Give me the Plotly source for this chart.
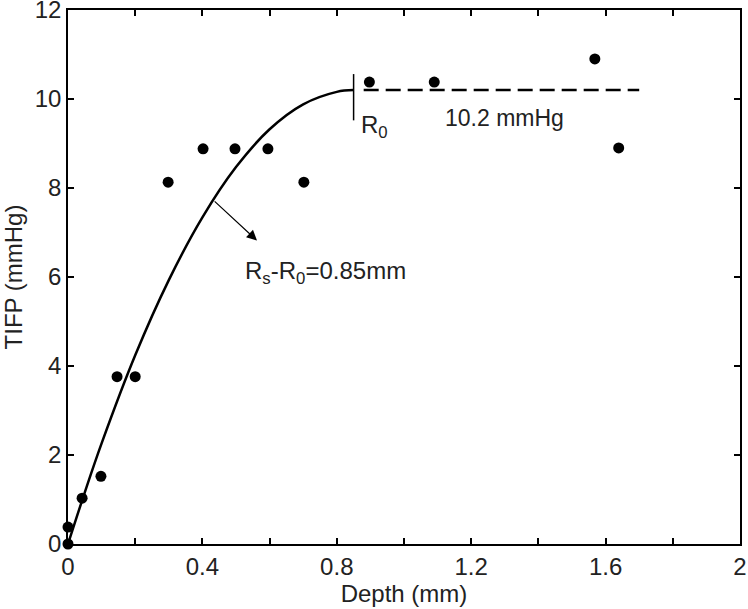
import plotly.graph_objects as go

# measured points (depth in mm, TIFP in mmHg)
depth = [0, 0, 0.042, 0.098, 0.146, 0.2, 0.298, 0.402, 0.497, 0.595, 0.702,
         0.897, 1.09, 1.568, 1.639]
tifp = [0, 0.38, 1.03, 1.52, 3.76, 3.76, 8.13, 8.88, 8.88, 8.88, 8.13,
        10.38, 10.38, 10.9, 8.9]

# fitted curve
fit_depth = [0, 0.05, 0.1, 0.2, 0.3, 0.4, 0.5, 0.6, 0.7, 0.8, 0.85]
fit_tifp = [0, 1.16, 2.26, 4.24, 5.93, 7.34, 8.47, 9.32, 9.88, 10.16, 10.2]

# plateau line
plateau_depth = [0.88, 1.7]
plateau_tifp = [10.2, 10.2]

r0 = 0.85
x_ticks = [0, 0.4, 0.8, 1.2, 1.6, 2.0]
x_labels = ["0", "0.4", "0.8", "1.2", "1.6", "2"]
y_ticks = [0, 2, 4, 6, 8, 10, 12]

FONT = "Liberation Sans, Arial, sans-serif"
TXT = "#222"

fig = go.Figure()
fig.add_trace(go.Scatter(x=fit_depth, y=fit_tifp, mode="lines",
                         line=dict(color="black", width=2.5, shape="spline"),
                         hoverinfo="skip"))
fig.add_trace(go.Scatter(x=plateau_depth, y=plateau_tifp, mode="lines",
                         line=dict(color="black", width=2.5, dash="15px,7px"),
                         hoverinfo="skip"))
fig.add_trace(go.Scatter(x=depth, y=tifp, mode="markers", cliponaxis=False,
                         marker=dict(color="black", size=11)))

# vertical mark at R0
fig.add_shape(type="line", xref="x", yref="y", x0=r0, x1=r0, y0=9.52, y1=10.56,
              line=dict(color="black", width=1.5))

fig.add_annotation(x=0.866, y=9.38, text="R<sub>0</sub>", showarrow=False,
                   xanchor="left", yanchor="middle", font=dict(size=24))
fig.add_annotation(x=1.30, y=9.57, text="10.2 mmHg", showarrow=False,
                   xanchor="center", yanchor="middle", font=dict(size=23))
fig.add_annotation(x=0.765, y=6.1, text="R<sub>s</sub>-R<sub>0</sub>=0.85mm",
                   showarrow=False, xanchor="center", yanchor="middle",
                   font=dict(size=24))
# arrow normal to the curve
fig.add_annotation(x=0.5625, y=6.82, ax=0.432, ay=7.73, axref="x", ayref="y",
                   xref="x", yref="y", text="", showarrow=True,
                   arrowhead=2, arrowsize=1.7, arrowwidth=1.2, arrowcolor="black")

axis_style = dict(showline=True, linecolor="black", linewidth=1.5, mirror="ticks",
                  ticks="inside", ticklen=6, tickwidth=1.5, tickcolor="black",
                  showgrid=False, zeroline=False, automargin=False,
                  ticklabeloverflow="allow",
                  tickfont=dict(size=24, color=TXT))

fig.update_xaxes(range=[0, 2], tickvals=x_ticks, ticktext=x_labels,
                 minor=dict(dtick=0.2, ticks="inside", ticklen=6, tickwidth=1.5,
                            tickcolor="black"),
                 title=dict(text="Depth (mm)", font=dict(size=24, color=TXT), standoff=1),
                 **axis_style)
fig.update_yaxes(range=[0, 12], tickvals=y_ticks,
                 title=dict(text="TIFP (mmHg)", font=dict(size=24, color=TXT), standoff=7),
                 **axis_style)

fig.update_layout(width=748, height=609, showlegend=False,
                  plot_bgcolor="white", paper_bgcolor="white",
                  font=dict(family=FONT, color=TXT),
                  margin=dict(l=68, r=8, t=10, b=65))

# drop the default page margin so the figure sits at the window's corner
fig.write_html("out.html", config={"displayModeBar": False},
               post_script="document.body.style.margin='0';")
